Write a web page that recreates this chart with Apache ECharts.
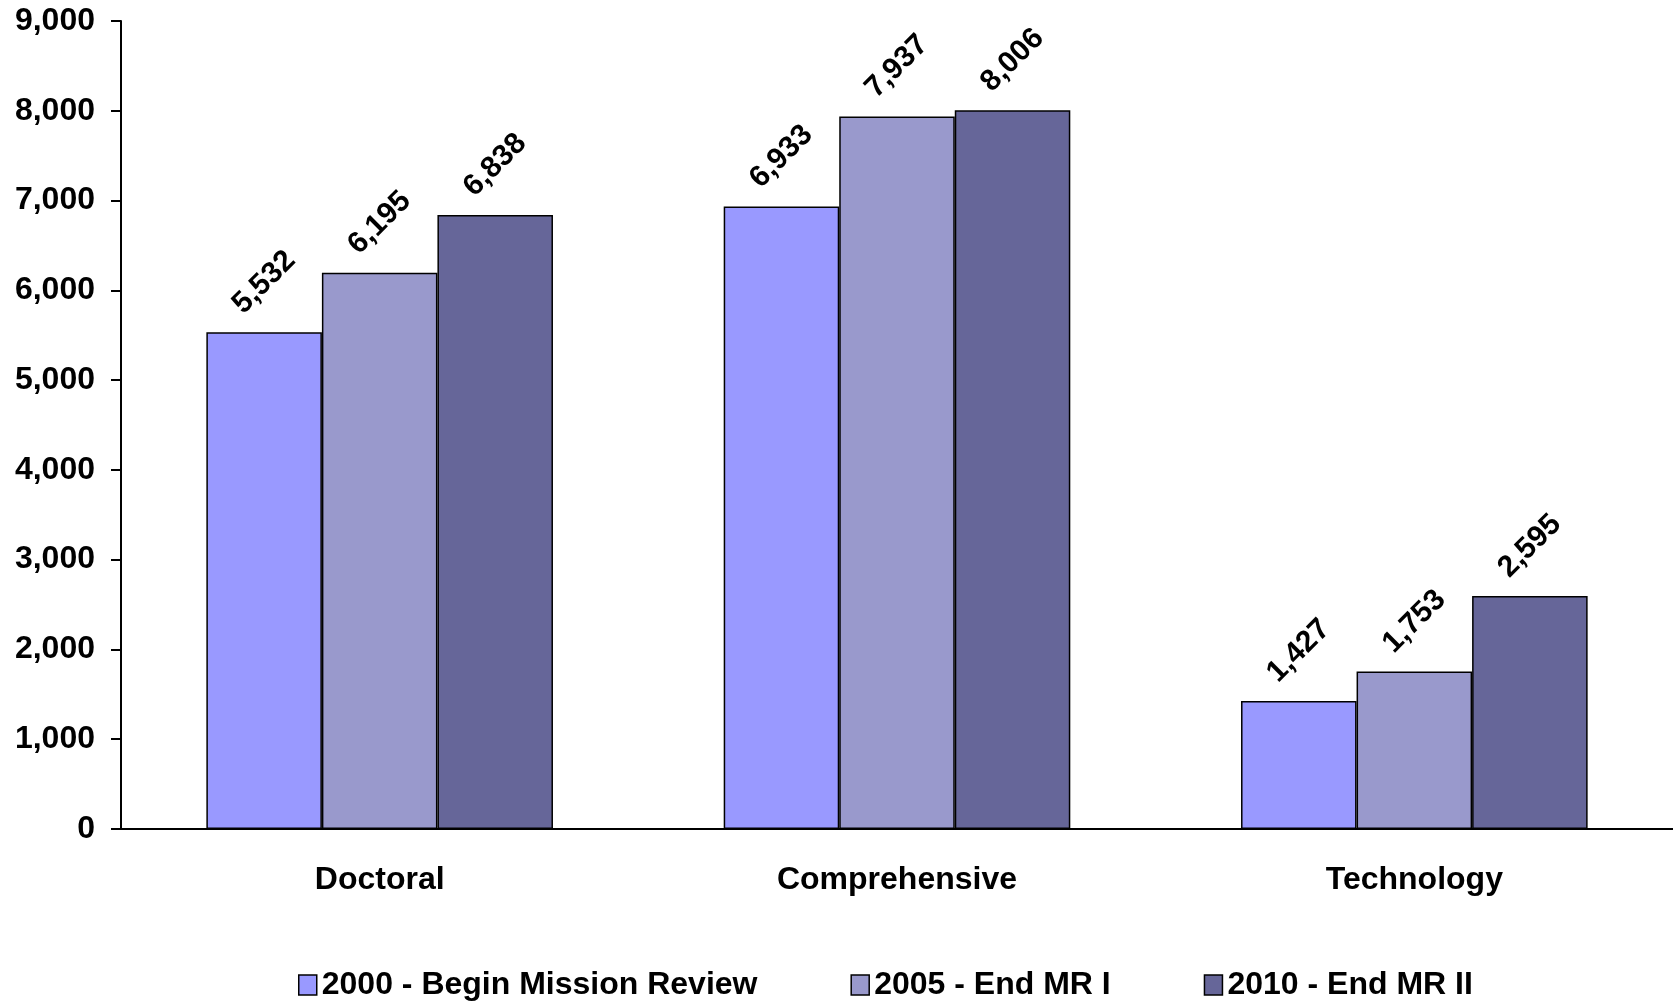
<!DOCTYPE html>
<html>
<head>
<meta charset="utf-8">
<script src="https://cdn.jsdelivr.net/npm/echarts@6/dist/echarts.min.js"></script>
<style>
  html, body { margin: 0; padding: 0; background: #ffffff; }
  #chart { width: 1673px; height: 1001px; }
</style>
</head>
<body>
<div id="chart"></div>
<script>
// Institution types on the x axis
const categories = ['Doctoral', 'Comprehensive', 'Technology'];

// One series per milestone year
const seriesNames = ['2000 - Begin Mission Review', '2005 - End MR I', '2010 - End MR II'];
const values2000 = [5532, 6933, 1427];
const values2005 = [6195, 7937, 1753];
const values2010 = [6838, 8006, 2595];
const seriesColors = ['#9999FF', '#9999CC', '#666699'];

// Value axis ticks
const yMin = 0;
const yMax = 9000;
const yStep = 1000;

const FONT = '"Liberation Sans", Arial, sans-serif';
const fmt = v => v.toLocaleString('en-US');

const seriesData = [values2000, values2005, values2010];

const chart = echarts.init(document.getElementById('chart'));
chart.setOption({
  animation: false,
  backgroundColor: '#ffffff',
  textStyle: { fontFamily: FONT },
  grid: { left: 121, width: 1557, top: 21, bottom: 172, containLabel: false },
  legend: {
    left: 298,
    top: 969,
    padding: 0,
    itemWidth: 18,
    itemHeight: 20,
    itemGap: 93,
    icon: 'rect',
    textStyle: { fontFamily: FONT, fontSize: 32, fontWeight: 'bold', color: '#000' },
    data: seriesNames.map((n, i) => ({
      name: n,
      itemStyle: { color: seriesColors[i], borderColor: '#000', borderWidth: 1.5 }
    }))
  },
  xAxis: {
    type: 'category',
    data: categories,
    axisLine: { lineStyle: { color: '#000', width: 2 } },
    axisTick: { show: false },
    axisLabel: {
      margin: 35,
      fontFamily: FONT, fontSize: 32, fontWeight: 'bold', color: '#000'
    },
    splitLine: { show: false }
  },
  yAxis: {
    type: 'value',
    min: yMin,
    max: yMax,
    interval: yStep,
    axisLine: { show: true, lineStyle: { color: '#000', width: 2 } },
    axisTick: { show: true, inside: false, length: 10, lineStyle: { color: '#000', width: 2 } },
    axisLabel: {
      margin: 26,
      fontFamily: FONT, fontSize: 32, fontWeight: 'bold', color: '#000',
      formatter: v => fmt(v)
    },
    splitLine: { show: false }
  },
  series: seriesNames.map((name, i) => ({
    name: name,
    type: 'bar',
    data: seriesData[i],
    barGap: '0%',
    barCategoryGap: '33%',
    itemStyle: { color: seriesColors[i], borderColor: '#000', borderWidth: 1.5 },
    label: {
      show: true,
      position: 'top',
      distance: 50,
      rotate: 45,
      align: 'center',
      verticalAlign: 'middle',
      fontFamily: FONT,
      fontSize: 30,
      fontWeight: 'bold',
      color: '#000',
      formatter: p => fmt(p.value)
    }
  }))
});
</script>
</body>
</html>
